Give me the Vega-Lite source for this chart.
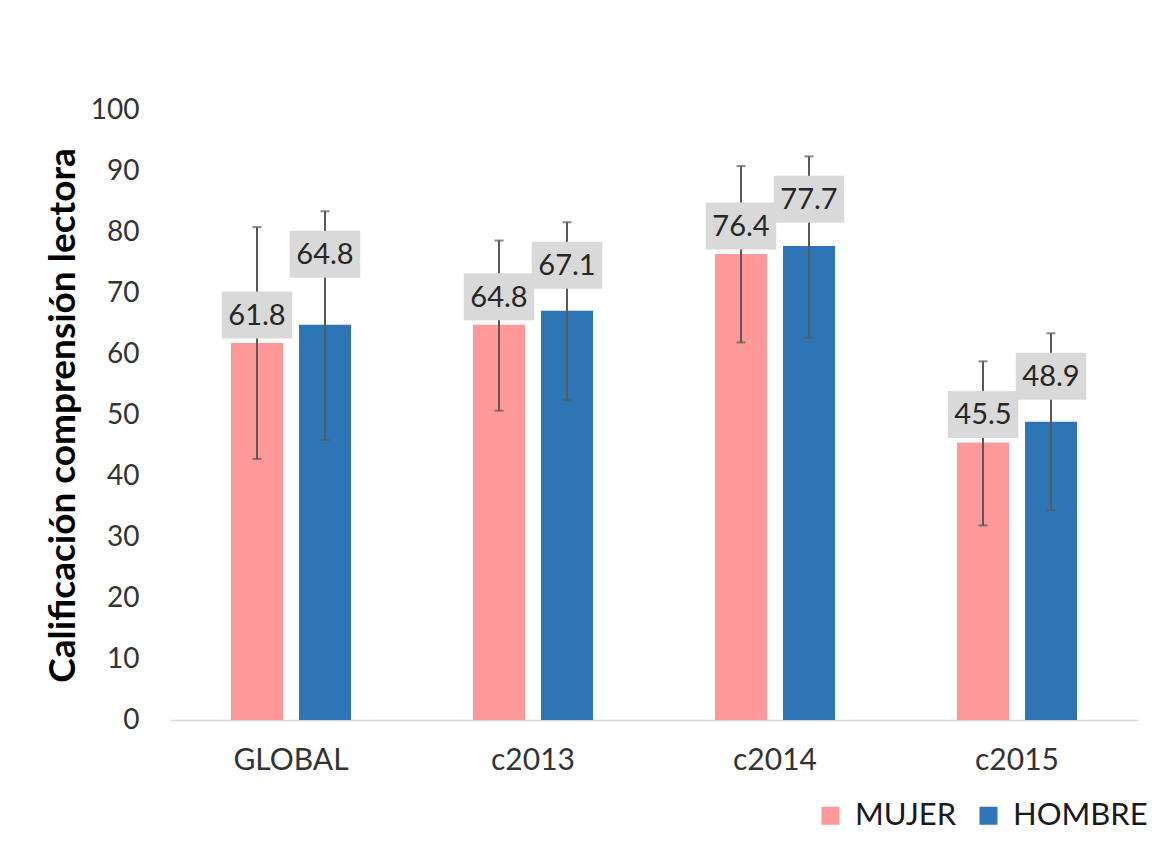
{
  "$schema": "https://vega.github.io/schema/vega-lite/v6.json",
  "width": 968,
  "height": 610,
  "autosize": {"type": "none"},
  "padding": {"left": 170, "top": 110, "right": 31, "bottom": 133},
  "background": "white",
  "config": {"view": {"stroke": null}, "font": "Lato"},
  "data": {
    "values": [
      {"grupo": "GLOBAL", "sexo": "MUJER", "valor": 61.8, "lo": 42.8, "hi": 80.8},
      {"grupo": "GLOBAL", "sexo": "HOMBRE", "valor": 64.8, "lo": 45.9, "hi": 83.4},
      {"grupo": "c2013", "sexo": "MUJER", "valor": 64.8, "lo": 50.7, "hi": 78.6},
      {"grupo": "c2013", "sexo": "HOMBRE", "valor": 67.1, "lo": 52.4, "hi": 81.6},
      {"grupo": "c2014", "sexo": "MUJER", "valor": 76.4, "lo": 61.9, "hi": 90.8},
      {"grupo": "c2014", "sexo": "HOMBRE", "valor": 77.7, "lo": 62.7, "hi": 92.4},
      {"grupo": "c2015", "sexo": "MUJER", "valor": 45.5, "lo": 31.9, "hi": 58.8},
      {"grupo": "c2015", "sexo": "HOMBRE", "valor": 48.9, "lo": 34.4, "hi": 63.4}
    ]
  },
  "encoding": {
    "x": {
      "field": "grupo",
      "type": "nominal",
      "sort": ["GLOBAL", "c2013", "c2014", "c2015"],
      "scale": {"paddingInner": 0, "paddingOuter": 0},
      "axis": {
        "title": null,
        "labelAngle": 0,
        "labelFontSize": 30,
        "labelColor": "#333333",
        "labelPadding": 25,
        "ticks": false,
        "domainColor": "#D9D9D9",
        "domainWidth": 1.5
      }
    },
    "xOffset": {
      "field": "sexo",
      "type": "nominal",
      "sort": ["MUJER", "HOMBRE"],
      "scale": {"paddingInner": 0.235, "paddingOuter": 0.897}
    }
  },
  "layer": [
    {
      "mark": {"type": "bar"},
      "encoding": {
        "y": {
          "field": "valor",
          "type": "quantitative",
          "title": "Calificación comprensión lectora",
          "scale": {"domain": [0, 100]},
          "axis": {
            "values": [0, 10, 20, 30, 40, 50, 60, 70, 80, 90, 100],
            "grid": false,
            "domain": false,
            "ticks": false,
            "labelFontSize": 28,
            "labelColor": "#333333",
            "labelPadding": 31,
            "titleFontSize": 37,
            "titleFontWeight": "bold",
            "titleColor": "#000000",
            "titlePadding": 8
          }
        },
        "color": {
          "field": "sexo",
          "type": "nominal",
          "scale": {"domain": ["MUJER", "HOMBRE"], "range": ["#FF9999", "#2E75B6"]},
          "legend": {
            "title": null,
            "orient": "none",
            "legendX": 645,
            "legendY": 690,
            "direction": "horizontal",
            "symbolType": "square",
            "symbolSize": 324,
            "symbolStrokeWidth": 0,
            "labelFontSize": 31,
            "labelOffset": 9,
            "columnPadding": 16,
            "labelColor": "#1a1a1a",
            "padding": 0
          }
        }
      }
    },
    {
      "mark": {"type": "rule", "color": "#595959", "strokeWidth": 2},
      "encoding": {
        "y": {"field": "lo", "type": "quantitative", "title": "Calificación comprensión lectora"},
        "y2": {"field": "hi"}
      }
    },
    {
      "mark": {"type": "tick", "color": "#595959", "thickness": 2, "size": 9, "orient": "horizontal"},
      "encoding": {
        "y": {"field": "lo", "type": "quantitative", "title": "Calificación comprensión lectora"}
      }
    },
    {
      "mark": {"type": "tick", "color": "#595959", "thickness": 2, "size": 9, "orient": "horizontal"},
      "encoding": {
        "y": {"field": "hi", "type": "quantitative", "title": "Calificación comprensión lectora"}
      }
    },
    {
      "transform": [{"filter": "datum.sexo == 'MUJER'"}],
      "mark": {"type": "point", "shape": "M-1.5,-1L1.5,-1L1.5,1L-1.5,1Z", "size": 2209, "filled": true, "color": "#D9D9D9", "opacity": 1, "yOffset": -28},
      "encoding": {
        "y": {"field": "valor", "type": "quantitative", "title": "Calificación comprensión lectora"}
      }
    },
    {
      "transform": [{"filter": "datum.sexo == 'HOMBRE'"}],
      "mark": {"type": "point", "shape": "M-1.5,-1L1.5,-1L1.5,1L-1.5,1Z", "size": 2209, "filled": true, "color": "#D9D9D9", "opacity": 1, "yOffset": 43},
      "encoding": {
        "y": {"field": "hi", "type": "quantitative", "title": "Calificación comprensión lectora"}
      }
    },
    {
      "transform": [{"filter": "datum.sexo == 'MUJER'"}],
      "mark": {"type": "text", "fontSize": 29, "color": "#262626", "baseline": "middle", "align": "center", "yOffset": -27},
      "encoding": {
        "y": {"field": "valor", "type": "quantitative", "title": "Calificación comprensión lectora"},
        "text": {"field": "valor", "type": "quantitative", "format": ".1f"}
      }
    },
    {
      "transform": [{"filter": "datum.sexo == 'HOMBRE'"}],
      "mark": {"type": "text", "fontSize": 29, "color": "#262626", "baseline": "middle", "align": "center", "yOffset": 44},
      "encoding": {
        "y": {"field": "hi", "type": "quantitative", "title": "Calificación comprensión lectora"},
        "text": {"field": "valor", "type": "quantitative", "format": ".1f"}
      }
    }
  ]
}
